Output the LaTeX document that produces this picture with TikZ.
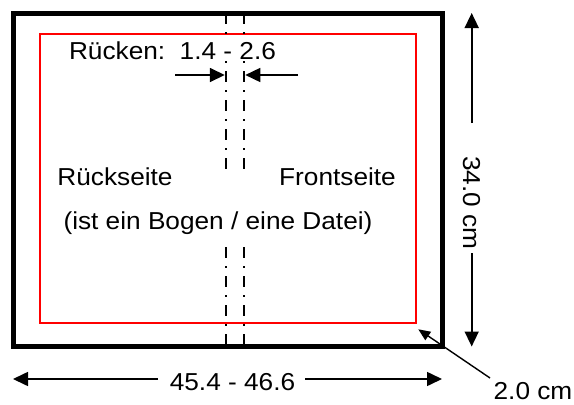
\documentclass[tikz,border=0pt]{standalone}
\usepackage{fontspec}
\setmainfont[FakeStretch=1.07]{Liberation Sans}
\usetikzlibrary{arrows.meta}
\tikzset{rahmen/.style={draw,line width=5pt},
         randlinie/.style={draw=red,line width=1.5pt},
         falz/.style={draw,line width=2pt,dash pattern=on 11pt off 8pt on 2pt off 8pt},
         masspfeil/.style={draw,line width=1.6pt,-{Triangle[length=15pt,width=14pt]}},
         eckpfeil/.style={draw,line width=1.4pt,-{Triangle[length=12pt,width=10pt]}},
         beschrift/.style={font=\fontsize{24.5}{30}\selectfont,inner sep=1pt},
        }

\begin{document}
\begin{tikzpicture}[x=1pt,y=-1pt]
        \useasboundingbox (0,0) rectangle (574,405);

        % Bogen und Satzspiegel
        \draw[rahmen](13.5,13.5)rectangle(442.5,346.5);
        \draw[randlinie](40,34)rectangle(416,323);

        % Falzlinien des Rueckens
        \coordinate(fl1)at(225.8,13);
        \coordinate(fl2)at(225.8,170);
        \coordinate(fl3)at(225.8,247);
        \coordinate(fl4)at(225.8,347);
        \coordinate(fr1)at(244.3,13);
        \coordinate(fr2)at(244.3,170);
        \coordinate(fr3)at(244.3,247);
        \coordinate(fr4)at(244.3,347);
        \draw[falz](fl1)--(fl2);
        \draw[falz](fl3)--(fl4);
        \draw[falz](fr1)--(fr2);
        \draw[falz](fr3)--(fr4);

        \node[beschrift, anchor=base, fill=white](ruecken)at(172.5,59){R\"ucken:\ \ 1.4 - 2.6};
        \node[beschrift, anchor=base](rueckseite)at(115,185.7){R\"uckseite};
        \node[beschrift, anchor=base](frontseite)at(337.5,185.7){Frontseite};
        \node[beschrift, anchor=base](datei)at(218,229){(ist ein Bogen / eine Datei)};

        % Rueckenbreite
        \coordinate(rl)at(175,75);
        \coordinate(rlz)at(224.8,75);
        \coordinate(rr)at(298,75);
        \coordinate(rrz)at(245.3,75);
        \draw[masspfeil](rl)--(rlz);
        \draw[masspfeil](rr)--(rrz);

        % Hoehe
        \node[beschrift, rotate=-90](hoehe)at(471.7,203){34.0 cm};
        \coordinate(ho)at(471.7,123);
        \coordinate(hoz)at(471.7,13);
        \coordinate(hu)at(471.7,253);
        \coordinate(huz)at(471.7,346.5);
        \draw[masspfeil](ho)--(hoz);
        \draw[masspfeil](hu)--(huz);

        % Breite
        \node[beschrift, anchor=base](breite)at(232.5,390){45.4 - 46.6};
        \coordinate(bl)at(158,379);
        \coordinate(blz)at(13,379);
        \coordinate(br)at(305,379);
        \coordinate(brz)at(442,379);
        \draw[masspfeil](bl)--(blz);
        \draw[masspfeil](br)--(brz);

        % Rand
        \node[beschrift, anchor=base, inner sep=0pt](rand)at(533,399.5){2.0 cm};
        \coordinate(ra)at(490,378);
        \coordinate(raz)at(418.3,329.3);
        \draw[eckpfeil](ra)--(raz);
    \end{tikzpicture}
\end{document}
